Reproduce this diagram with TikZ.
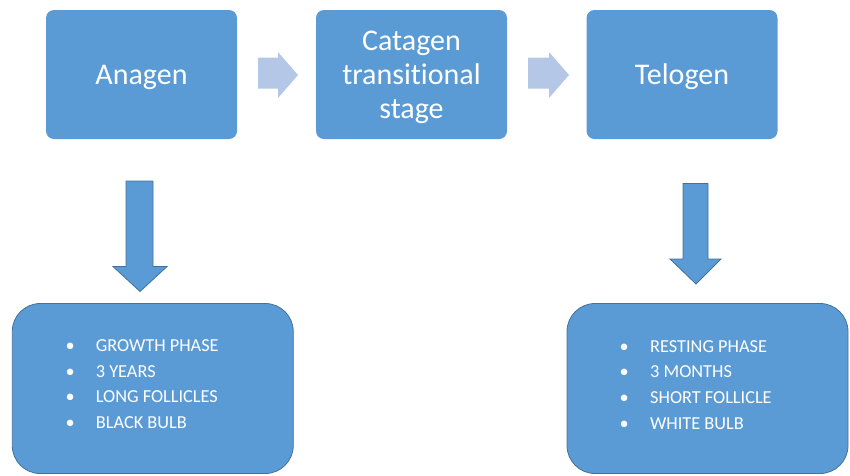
\documentclass[tikz,border=0pt]{standalone}
\usepackage{fontspec}
\setmainfont{Carlito}[Ligatures={NoCommon}]
\definecolor{boxblue}{HTML}{5B9BD5}
\definecolor{edgeblue}{HTML}{41719C}
\definecolor{lightarrow}{HTML}{B4C7E7}
\begin{document}
\begin{tikzpicture}[x=1pt,y=-1pt,
  phase/.style={fill=boxblue,draw=none,rounded corners=8pt,minimum width=191pt,minimum height=129pt,inner sep=0pt,text=white,font=\fontsize{30}{34}\selectfont,align=center},
  infobox/.style={fill=boxblue,draw=edgeblue,line width=0.8pt,rounded corners=28pt,minimum width=281pt,minimum height=170pt,inner sep=0pt},
  item/.style={anchor=base west,inner sep=0pt,text=white,font=\fontsize{18.3}{22}\selectfont},
  flatarrow/.style={fill=lightarrow,draw=none},
  downarrow/.style={fill=boxblue,draw=edgeblue,line width=0.8pt,line join=miter}]
\useasboundingbox (0,0) rectangle (850,475);
\node[phase] (ana) at (141.5,74.5) {};
\node[phase] (cat) at (411.5,74.5) {};
\node[phase] (tel) at (682,74.5) {};
\node[text=white,font=\fontsize{30}{34}\selectfont,align=center] (anat) at ([yshift=-2.5pt]ana.center) {Anagen};
\node[text=white,font=\fontsize{30}{34}\selectfont,align=center] (catt) at ([yshift=-2.5pt]cat.center) {Catagen\\transitional\\stage};
\node[text=white,font=\fontsize{30}{34}\selectfont,align=center] (telt) at ([yshift=-2.5pt]tel.center) {Telogen};
\node[infobox] (lb) at (152.75,388.5) {};
\node[infobox] (rb) at (707.5,388.5) {};
% horizontal block arrows
\fill[flatarrow] (258,57.5) -- (278,57.5) -- (278,52) -- (298,75) -- (278,98) -- (278,88.5) -- (258,88.5) -- cycle;
\fill[flatarrow] (528,57.5) -- (549,57.5) -- (549,52) -- (569,75) -- (549,98) -- (549,88.5) -- (528,88.5) -- cycle;
% vertical block arrows
\draw[downarrow] (126,181) -- (153,181) -- (153,266.5) -- (167,266.5) -- (140,291.5) -- (113,266.5) -- (126,266.5) -- cycle;
\draw[downarrow] (683,183.5) -- (708,183.5) -- (708,259) -- (721,259) -- (696,284) -- (670,259) -- (683,259) -- cycle;
% lists
\foreach \t [count=\i] in {GROWTH PHASE,3 YEARS,LONG FOLLICLES,BLACK BULB}{
  \node[item] (l\i) at (65.5,{351.5+25.5*(\i-1)}) {\makebox[30.2pt][l]{•}\t};
}
\foreach \t [count=\i] in {RESTING PHASE,3 MONTHS,SHORT FOLLICLE,WHITE BULB}{
  \node[item] (r\i) at (619.5,{352+25.7*(\i-1)}) {\makebox[30.5pt][l]{•}\t};
}
\end{tikzpicture}
\end{document}
